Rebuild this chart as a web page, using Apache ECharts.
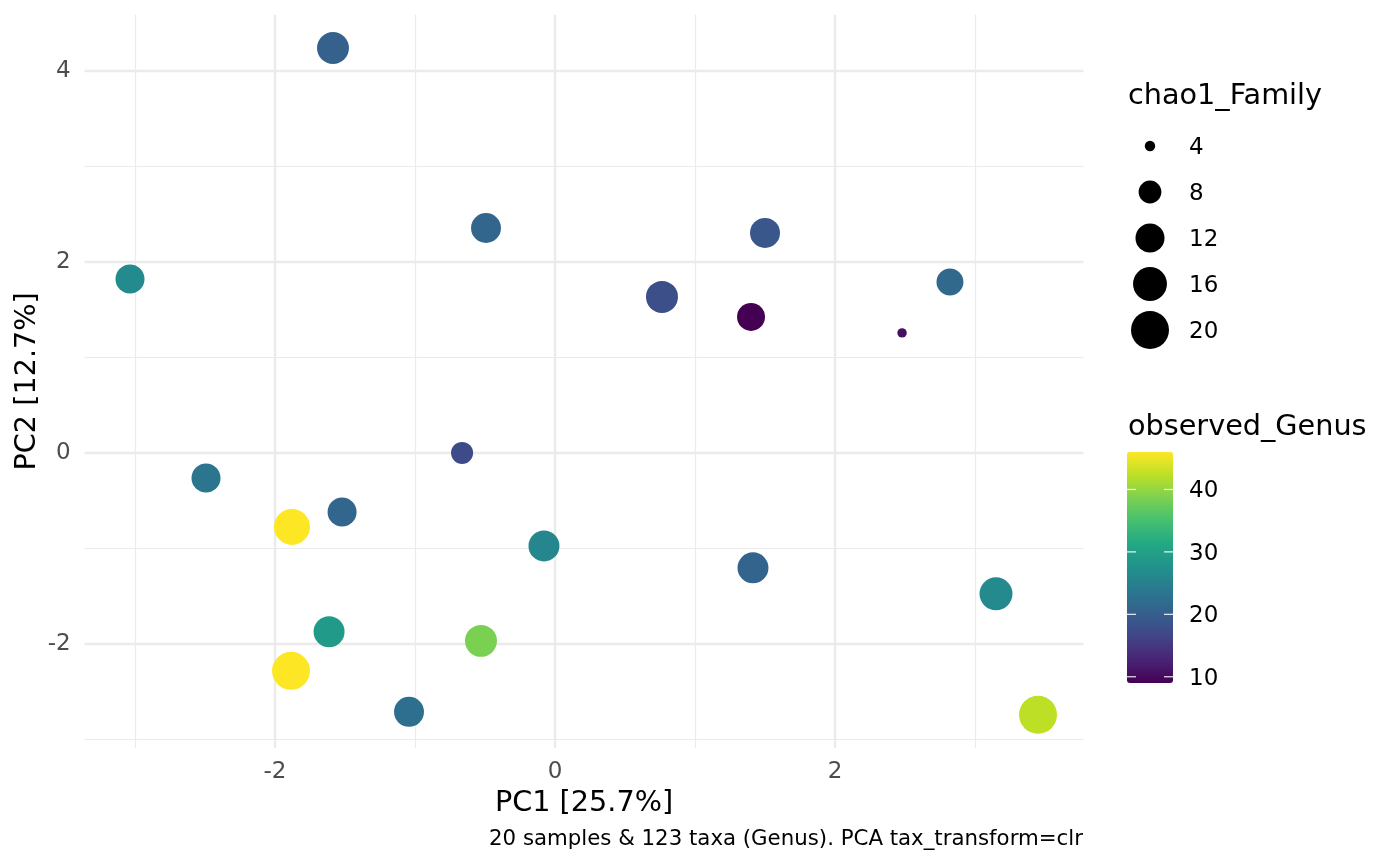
<!DOCTYPE html>
<html><head><meta charset="utf-8">
<script src="https://cdn.jsdelivr.net/npm/echarts@6/dist/echarts.min.js"></script>
<style>html,body{margin:0;padding:0;background:#fff}#c{width:1400px;height:866px}</style>
</head><body><div id="c"></div>
<script>
// ---- data ----
const pc1 = [-1.586, -3.036, -0.493, 1.500, 2.821, 0.764, 1.400, 2.479, -0.664, -2.493,
             -1.879, -1.521, -0.079, 1.414, 3.150, -1.614, -0.529, -1.886, -1.043, 3.450];
const pc2 = [4.241, 1.822, 2.356, 2.304, 1.791, 1.634, 1.424, 1.257, 0.000, -0.262,
             -0.775, -0.618, -0.974, -1.204, -1.476, -1.874, -1.969, -2.283, -2.712, -2.743];
const chao1Family = [14.3, 12.0, 12.7, 12.7, 10.5, 14.3, 11.2, 3.9, 7.6, 12.0,
                     18.0, 12.0, 13.5, 13.5, 15.2, 13.5, 14.3, 20.0, 12.7, 20.0];
const observedGenus = [20.5, 26.5, 21.2, 19.0, 21.6, 17.9, 9.0, 10.5, 17.5, 23.5,
                       46.0, 21.2, 26.0, 20.8, 26.4, 29.0, 38.6, 46.0, 22.3, 42.3];
const sizeBreaks = [4, 8, 12, 16, 20];
const colorBreaks = [10, 20, 30, 40];
const xTitle = 'PC1 [25.7%]';
const yTitle = 'PC2 [12.7%]';
const sizeTitle = 'chao1_Family';
const colorTitle = 'observed_Genus';
const caption = '20 samples & 123 taxa (Genus). PCA tax_transform=clr';
const viridis = ['#440154','#482475','#414487','#355f8d','#2a788e','#21918c','#22a884','#44bf70','#7ad151','#bddf26','#fde725'];

// ---- helpers ----
function expand(arr) { const mn = Math.min(...arr), mx = Math.max(...arr), p = (mx - mn) * 0.05; return [mn - p, mx + p]; }
const xl = expand(pc1), yl = expand(pc2);
const sizeFn = v => 7 + 7.7 * Math.sqrt(Math.max(v - 3.8, 0));
const gMin = Math.min(...observedGenus), gMax = Math.max(...observedGenus);
const FONT = 'DejaVu Sans';
const isInt = v => Math.abs(v - Math.round(v)) < 1e-9;

const bar = { left: 1127, top: 452, width: 46, height: 231 };

const graphics = [];
// size legend
graphics.push({ type: 'text', x: 1128, y: 97, style: { text: sizeTitle, fontSize: 28.7, fontFamily: FONT, fill: '#000', verticalAlign: 'middle', align: 'left' } });
sizeBreaks.forEach((v, i) => {
  const cy = 146 + i * 46;
  graphics.push({ type: 'circle', shape: { cx: 1150, cy: cy, r: sizeFn(v) / 2 }, style: { fill: '#000' } });
  graphics.push({ type: 'text', x: 1189, y: cy + 2, style: { text: String(v), fontSize: 23, fontFamily: FONT, fill: '#000', verticalAlign: 'middle', align: 'left' } });
});
// colour legend title + ticks
graphics.push({ type: 'text', x: 1128, y: 428, style: { text: colorTitle, fontSize: 28.7, fontFamily: FONT, fill: '#000', verticalAlign: 'middle', align: 'left' } });
colorBreaks.forEach(v => {
  const y = bar.top + bar.height * (1 - (v - gMin) / (gMax - gMin));
  graphics.push({ type: 'line', z: 100, shape: { x1: bar.left, y1: y, x2: bar.left + 9, y2: y }, style: { stroke: '#ffffff', lineWidth: 1.2, opacity: 0.9 } });
  graphics.push({ type: 'line', z: 100, shape: { x1: bar.left + bar.width - 9, y1: y, x2: bar.left + bar.width, y2: y }, style: { stroke: '#ffffff', lineWidth: 1.2, opacity: 0.9 } });
  graphics.push({ type: 'text', x: 1189, y: y + 2, style: { text: String(v), fontSize: 23, fontFamily: FONT, fill: '#000', verticalAlign: 'middle', align: 'left' } });
});
// caption
graphics.push({ type: 'text', x: 1083, y: 839.5, style: { text: caption, fontSize: 21.3, fontFamily: FONT, fill: '#000', verticalAlign: 'middle', align: 'right' } });

const chart = echarts.init(document.getElementById('c'), null, { renderer: 'canvas' });
chart.setOption({
  animation: false,
  backgroundColor: '#ffffff',
  grid: { left: 84.6, right: 316.6, top: 14.7, bottom: 117.9, containLabel: false },
  xAxis: {
    type: 'value', min: xl[0], max: xl[1], minInterval: 2, maxInterval: 2,
    axisLine: { show: false }, axisTick: { show: false },
    axisLabel: { formatter: v => isInt(v) ? String(Math.round(v)) : '', color: '#4d4d4d', fontSize: 23, fontFamily: FONT, margin: 12.5, showMinLabel: false, showMaxLabel: false },
    splitLine: { show: true, showMinLine: false, showMaxLine: false, lineStyle: { color: '#ebebeb', width: 2.4 } },
    minorTick: { show: false, splitNumber: 2 },
    minorSplitLine: { show: true, lineStyle: { color: '#ebebeb', width: 1.2 } },
    name: xTitle, nameLocation: 'middle', nameGap: 41, nameMoveOverlap: false,
    nameTextStyle: { fontSize: 28.7, color: '#000', fontFamily: FONT }
  },
  yAxis: {
    type: 'value', min: yl[0], max: yl[1], minInterval: 2, maxInterval: 2,
    axisLine: { show: false }, axisTick: { show: false },
    axisLabel: { formatter: v => isInt(v) ? String(Math.round(v)) : '', color: '#4d4d4d', fontSize: 23, fontFamily: FONT, margin: 14, showMinLabel: false, showMaxLabel: false },
    splitLine: { show: true, showMinLine: false, showMaxLine: false, lineStyle: { color: '#ebebeb', width: 2.4 } },
    minorTick: { show: false, splitNumber: 2 },
    minorSplitLine: { show: true, lineStyle: { color: '#ebebeb', width: 1.2 } },
    name: yTitle, nameLocation: 'middle', nameGap: 43, nameMoveOverlap: false,
    nameTextStyle: { fontSize: 28.7, color: '#000', fontFamily: FONT }
  },
  visualMap: {
    type: 'continuous', min: gMin, max: gMax, dimension: 3, seriesIndex: 0,
    inRange: { color: viridis }, calculable: false, hoverLink: false,
    left: bar.left, top: bar.top, itemWidth: bar.width, itemHeight: bar.height,
    padding: 0, text: null, showLabel: false
  },
  series: [{
    type: 'scatter',
    data: pc1.map((x, i) => [x, pc2[i], chao1Family[i], observedGenus[i]]),
    symbolSize: d => sizeFn(d[2]),
    itemStyle: { opacity: 1 },
    emphasis: { disabled: true },
    silent: true
  }],
  graphic: graphics
});
</script></body></html>
